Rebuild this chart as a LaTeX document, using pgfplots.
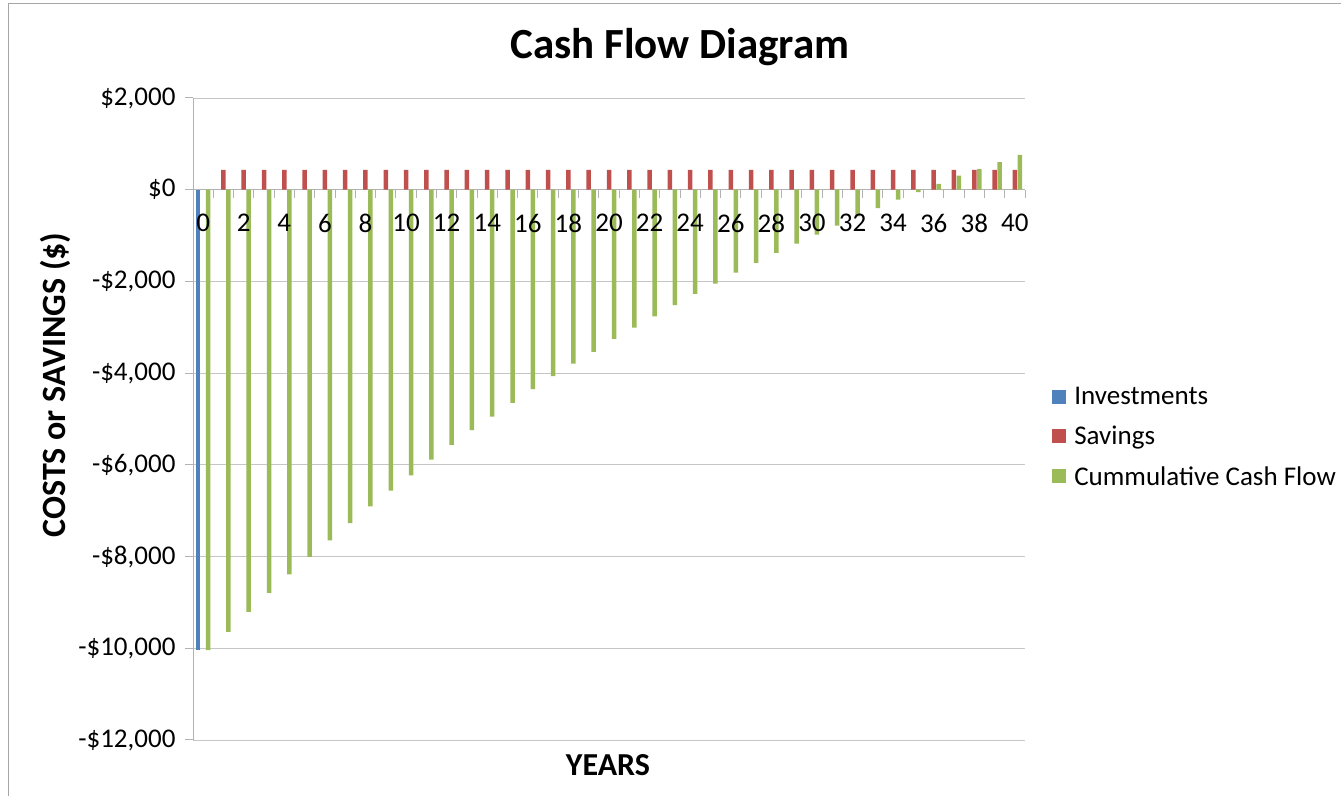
\documentclass[border=0pt]{standalone}
\usepackage{pgfplots}
\pgfplotsset{compat=1.18}
\usepackage{fontspec}
\setmainfont{Carlito}
\definecolor{inv}{HTML}{4F81BD}
\definecolor{sav}{HTML}{C0504D}
\definecolor{cum}{HTML}{9BBB59}
\begin{document}
\begin{tikzpicture}
\useasboundingbox (0,0) rectangle (1341pt,795pt);
\draw[gray!70, line width=1pt] (8pt,-5pt) -- (8pt,791pt) -- (1350pt,791pt);
\node[font=\bfseries\fontsize{43}{48}\selectfont] at (680pt,748pt) {Cash Flow Diagram};
\node[rotate=90, font=\bfseries\fontsize{34}{38}\selectfont] at (55pt,410pt) {COSTS or SAVINGS (\$)};
\node[font=\bfseries\fontsize{32}{36}\selectfont] at (608pt,30pt) {YEARS};
\begin{axis}[
  at={(193pt,55pt)}, anchor=south west, scale only axis,
  width=832pt, height=642pt,
  xmin=-0.5, xmax=40.5, ymin=-12000, ymax=2000,
  scaled y ticks=false,
  axis x line=middle, axis y line=left,
  axis line style={-, draw=gray!60, line width=1pt},
  tick align=outside,
  tick style={gray!60, line width=1pt},
  major tick length=8pt,
  xtick={-0.5,0.5,...,40.5}, xticklabels={},
  ytick={-12000,-10000,...,2000},
  yticklabels={-\$12{,}000,-\$10{,}000,-\$8{,}000,-\$6{,}000,-\$4{,}000,-\$2{,}000,\$0,\$2{,}000},
  yticklabel style={font=\fontsize{27}{32}\selectfont, xshift=-6pt},
  ymajorgrids, major grid style={gray!45, line width=0.8pt},
  ybar, bar width=4.5pt,
  legend image code/.code={\fill[#1] (0pt,-7pt) rectangle (14pt,7pt); \path (20pt,0pt);},
  legend style={at={(1.029,0.472)}, anchor=west, draw=none, fill=none,
    font=\fontsize{27}{32}\selectfont, row sep=16pt},
  legend cell align=left,
]
\addplot[ybar, bar shift=-5pt, fill=inv, draw=none] coordinates {(0,-10040)};
\addplot[ybar, bar shift=0pt, fill=sav, draw=none] coordinates {
(1,435)(2,435)(3,435)(4,435)(5,435)(6,435)(7,435)(8,435)(9,435)(10,435)
(11,435)(12,435)(13,435)(14,435)(15,435)(16,435)(17,435)(18,435)(19,435)(20,435)
(21,435)(22,435)(23,435)(24,435)(25,435)(26,435)(27,435)(28,435)(29,435)(30,435)
(31,435)(32,435)(33,435)(34,435)(35,435)(36,435)(37,435)(38,435)(39,435)(40,435)};
\addplot[ybar, bar shift=5pt, fill=cum, draw=none] coordinates {
(0,-10040)(1,-9640)(2,-9205)(3,-8790)(4,-8390)(5,-8005)(6,-7645)(7,-7270)(8,-6905)(9,-6560)
(10,-6230)(11,-5885)(12,-5565)(13,-5240)(14,-4950)(15,-4650)(16,-4350)(17,-4065)(18,-3790)(19,-3535)
(20,-3255)(21,-3005)(22,-2760)(23,-2515)(24,-2270)(25,-2050)(26,-1810)(27,-1595)(28,-1375)(29,-1175)
(30,-980)(31,-785)(32,-580)(33,-400)(34,-215)(35,-50)(36,125)(37,305)(38,450)(39,600)(40,760)};
\legend{Investments,Savings,Cummulative Cash Flow}
\end{axis}
\begin{axis}[
  at={(193pt,55pt)}, anchor=south west, scale only axis,
  width=832pt, height=642pt,
  xmin=-0.5, xmax=40.5, ymin=-12000, ymax=2000,
  axis x line=middle, axis y line=none,
  x axis line style={draw=none, -},
  major tick length=0pt,
  xtick={0,2,...,40},
  xticklabels={0,2,4,6,8,10,12,14,16,18,20,22,24,26,28,30,32,34,36,38,40},
  xticklabel style={font=\fontsize{27}{32}\selectfont, yshift=-21pt},
]
\end{axis}
\end{tikzpicture}
\end{document}
